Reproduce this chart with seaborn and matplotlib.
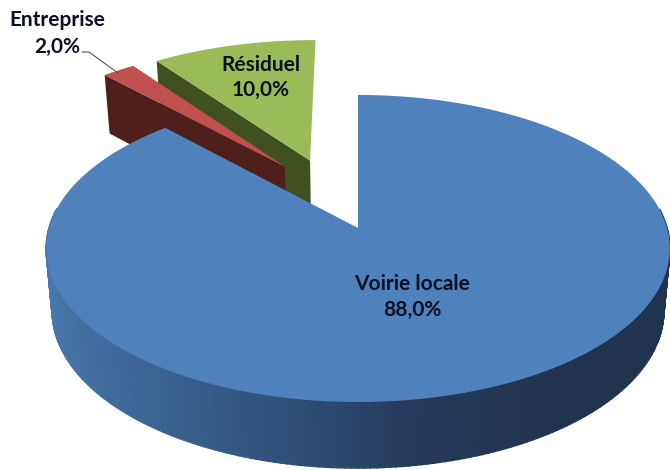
import numpy as np
import matplotlib
matplotlib.use('Agg')
import matplotlib.pyplot as plt
import seaborn as sns

categories = ['Voirie locale', 'Entreprise', 'Résiduel']
values = [88.0, 2.0, 10.0]

top_colors = ['#4f81bd', '#c0504d', '#9bbb59']
side_colors = ['#3a6496', '#4f1f1c', '#41501f']
rim_colors = ['#4a77ab', '#3c6593', '#2f5079', '#24395a', '#20344f', '#20344f']
# slice offsets on the pie plane (u right, v back), and radius
offsets = [(0, 0), (-0.25, 0.43), (-0.165, 0.475)]
radii = [1, 1.02, 1.02]
label_pos = [(412, 284, 310), (57, 20, 47), (261, 65, 90)]

cx, cy = 358, 228
rx, ry, k = 309, 150.8, 0.1335
rx2, ry2, dz = 303, 154.2, 62


def project(u, v, bottom=False):
    f = 1 / (1 + k * v)
    if bottom:
        return cx + rx2 * u * f, cy + dz - ry2 * v * f
    return cx + rx * u * f, cy - ry * v * f


sns.set_theme(style='white')
plt.rcParams['font.family'] = ['Lato', 'DejaVu Sans']

fig = plt.figure(figsize=(6.7, 4.7), dpi=100)
ax = fig.add_axes([0, 0, 1, 1])
ax.set_xlim(0, 670)
ax.set_ylim(470, 0)
ax.axis('off')

ends = np.cumsum(values) / np.sum(values) * 2 * np.pi
starts = np.r_[0, ends[:-1]]

# back slices first, the big one goes on top of them
for i in [2, 1, 0]:
    t = np.linspace(starts[i], ends[i], 300)
    u0, v0 = offsets[i]
    u = u0 + radii[i] * np.sin(t)
    v = v0 + radii[i] * np.cos(t)

    if i == 0:
        # rim, only the part facing the viewer
        cmap = sns.blend_palette(rim_colors, as_cmap=True)
        front = np.where(v < 0.14)[0]
        for a, b in zip(front[:-1], front[1:]):
            if b != a + 1:
                continue
            xs1, ys1 = project(u[[a, b]], v[[a, b]])
            xs2, ys2 = project(u[[b, a]], v[[b, a]], bottom=True)
            ax.fill(np.r_[xs1, xs2], np.r_[ys1, ys2], color=cmap((u[a] + 1) / 2), lw=1.2)
    else:
        # radial face on the left edge of the slice
        ue = np.array([u0, u[0]])
        ve = np.array([v0, v[0]])
        xs1, ys1 = project(ue, ve)
        xs2, ys2 = project(ue[::-1], ve[::-1], bottom=True)
        ax.fill(np.r_[xs1, xs2], np.r_[ys1, ys2], color=side_colors[i], lw=0)

    xs, ys = project(np.r_[u0, u], np.r_[v0, v])
    ax.fill(xs, ys, color=top_colors[i], lw=0)

for name, val, (x, y1, y2) in zip(categories, values, label_pos):
    pct = f'{val:.1f}%'.replace('.', ',')
    ax.text(x, y1, name, ha='center', va='center', fontsize=15, fontweight='bold', color='#0b1022')
    ax.text(x, y2, pct, ha='center', va='center', fontsize=15, fontweight='bold', color='#0b1022')

ax.plot([82, 89, 118], [52, 52, 73], color='#555555', lw=0.8)

fig.savefig('out.png', dpi=100)
